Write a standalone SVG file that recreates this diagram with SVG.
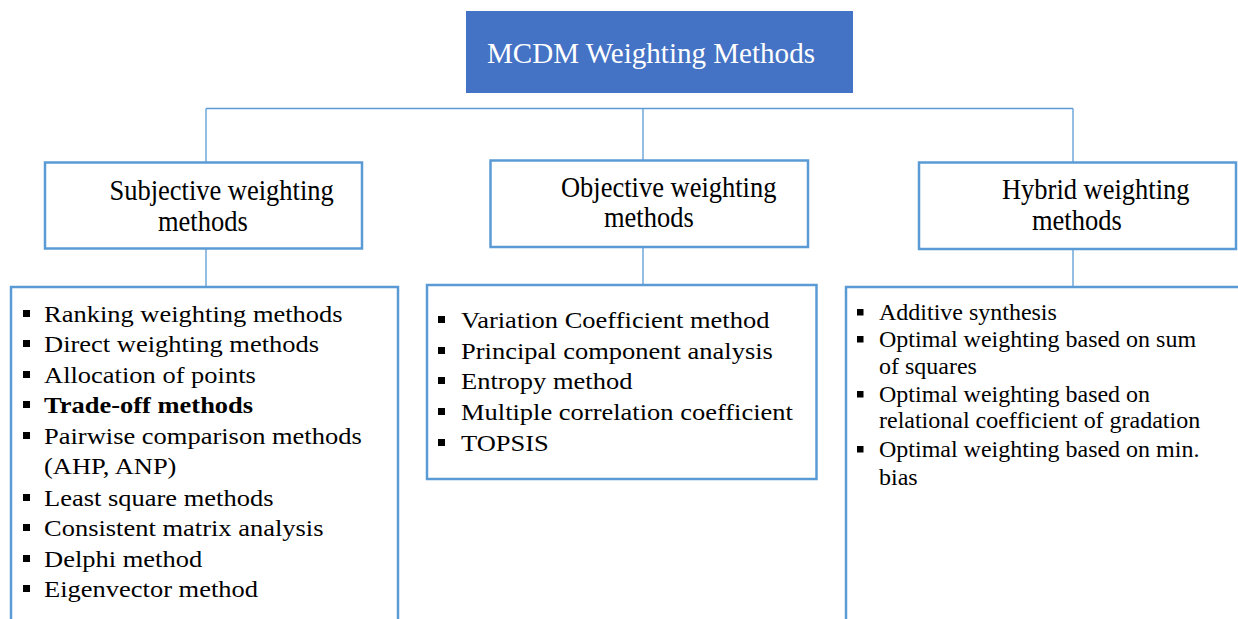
<svg xmlns="http://www.w3.org/2000/svg" width="1238" height="619" viewBox="0 0 1238 619">
<style>
text{font-family:"Liberation Serif","Times New Roman",serif;fill:#000}
.t{font-size:30px}
.l{font-size:23.7px}
.h{font-size:22.7px}
.box{fill:#fff;stroke:#5B9BD5;stroke-width:2.5}
.ln{fill:none;stroke:#5B9BD5;stroke-width:1.3}
.b{fill:#000}
</style>
<rect width="1238" height="619" fill="#fff"/>
<g id="connectors">
<path class="ln" d="M206,108.5 H1073 M206,108.5 V162 M643,108.5 V160 M1073,108.5 V162"/>
<path class="ln" d="M206,249 V287 M643,247 V285 M1073,249 V287"/>
</g>
<g id="title">
<rect x="466" y="11" width="387" height="82" fill="#4472C4"/>
<text transform="translate(487,63) scale(0.969,1)" style="font-size:30px;fill:#fff">MCDM Weighting Methods</text>
</g>
<g id="subjective">
<rect class="box" x="45" y="162.5" width="317" height="86"/>
<text class="t" transform="translate(109.5,200) scale(0.883,1)">Subjective weighting</text>
<text class="t" transform="translate(158,231) scale(0.883,1)">methods</text>
</g>
<g id="objective">
<rect class="box" x="490.5" y="160.5" width="317.5" height="86.5"/>
<text class="t" transform="translate(561,196.5) scale(0.883,1)">Objective weighting</text>
<text class="t" transform="translate(604,227) scale(0.883,1)">methods</text>
</g>
<g id="hybrid">
<rect class="box" x="919" y="162.5" width="317" height="86.5"/>
<text class="t" transform="translate(1002,199) scale(0.883,1)">Hybrid weighting</text>
<text class="t" transform="translate(1032,229.5) scale(0.883,1)">methods</text>
</g>
<g id="subjective-list">
<rect class="box" x="11" y="287" width="387" height="345"/>
<rect class="b" x="23" y="310" width="7" height="7"/>
<rect class="b" x="23" y="340" width="7" height="7"/>
<rect class="b" x="23" y="371" width="7" height="7"/>
<rect class="b" x="23" y="401" width="7" height="7"/>
<rect class="b" x="23" y="432" width="7" height="7"/>
<rect class="b" x="23" y="494" width="7" height="7"/>
<rect class="b" x="23" y="524" width="7" height="7"/>
<rect class="b" x="23" y="555" width="7" height="7"/>
<rect class="b" x="23" y="585" width="7" height="7"/>
<g transform="translate(44,0) scale(1.118,1)">
<text class="l" x="0" y="322">Ranking weighting methods</text>
<text class="l" x="0" y="352">Direct weighting methods</text>
<text class="l" x="0" y="383">Allocation of points</text>
<text class="l" x="0" y="413" font-weight="bold">Trade-off methods</text>
<text class="l" x="0" y="444">Pairwise comparison methods</text>
<text class="l" x="0" y="474.5">(AHP, ANP)</text>
<text class="l" x="0" y="506">Least square methods</text>
<text class="l" x="0" y="536">Consistent matrix analysis</text>
<text class="l" x="0" y="567">Delphi method</text>
<text class="l" x="0" y="597">Eigenvector method</text>
</g>
</g>
<g id="objective-list">
<rect class="box" x="427" y="285" width="389.5" height="194"/>
<rect class="b" x="438" y="316" width="7" height="7"/>
<rect class="b" x="438" y="347" width="7" height="7"/>
<rect class="b" x="438" y="377" width="7" height="7"/>
<rect class="b" x="438" y="408" width="7" height="7"/>
<rect class="b" x="438" y="439" width="7" height="7"/>
<g transform="translate(461,0) scale(1.118,1)">
<text class="l" x="0" y="328">Variation Coefficient method</text>
<text class="l" x="0" y="359">Principal component analysis</text>
<text class="l" x="0" y="389">Entropy method</text>
<text class="l" x="0" y="420">Multiple correlation coefficient</text>
<text class="l" x="0" y="451">TOPSIS</text>
</g>
</g>
<g id="hybrid-list">
<rect class="box" x="846" y="287" width="420" height="345"/>
<rect class="b" x="857" y="309" width="6.5" height="6.5"/>
<rect class="b" x="857" y="336" width="6.5" height="6.5"/>
<rect class="b" x="857" y="391" width="6.5" height="6.5"/>
<rect class="b" x="857" y="446" width="6.5" height="6.5"/>
<g transform="translate(879,0) scale(1.057,1)">
<text class="h" x="0" y="320">Additive synthesis</text>
<text class="h" x="0" y="347">Optimal weighting based on sum</text>
<text class="h" x="0" y="374">of squares</text>
<text class="h" x="0" y="402">Optimal weighting based on</text>
<text class="h" x="0" y="428.5">relational coefficient of gradation</text>
<text class="h" x="0" y="457">Optimal weighting based on min.</text>
<text class="h" x="0" y="485">bias</text>
</g>
</g>
</svg>
